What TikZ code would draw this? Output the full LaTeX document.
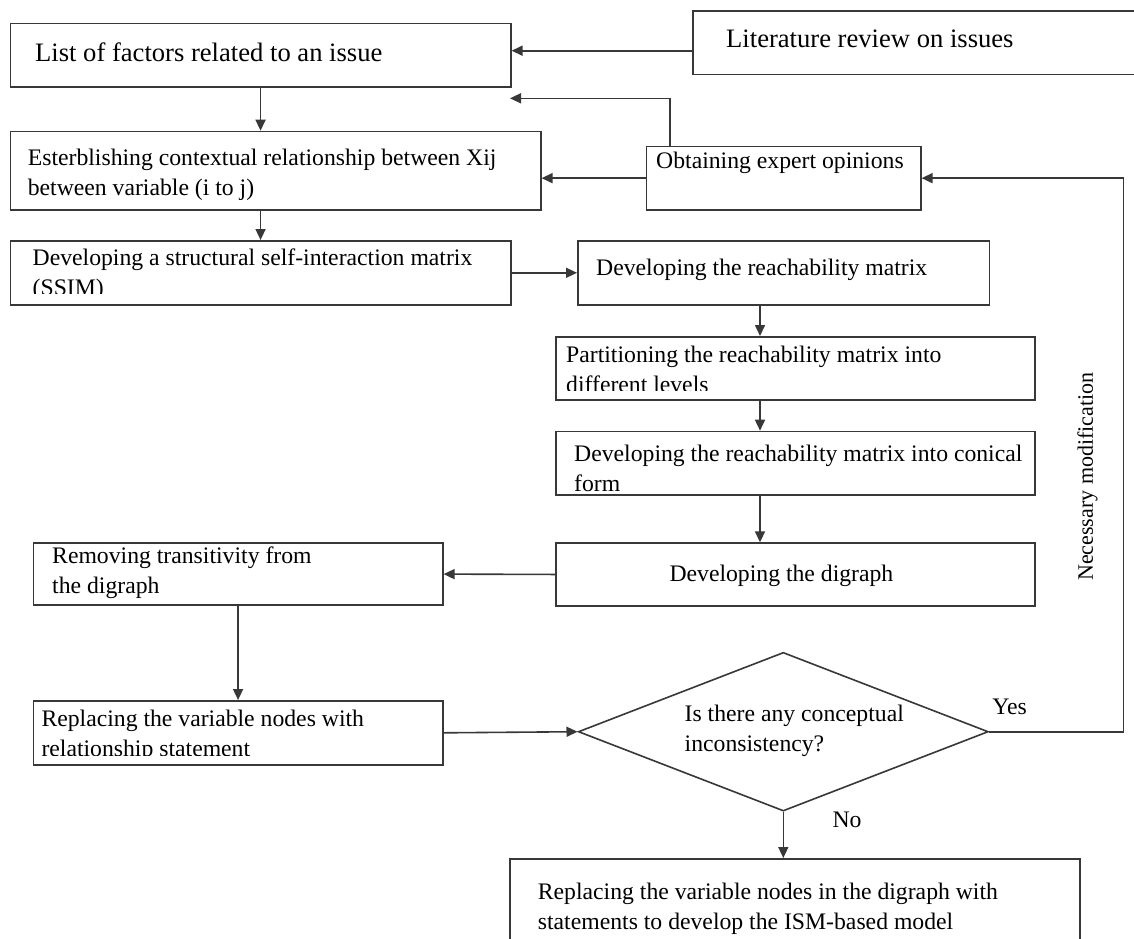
\documentclass[tikz,border=0pt]{standalone}
\usepackage{fontspec}
\setmainfont{Liberation Serif}
\usetikzlibrary{shapes.geometric,arrows.meta}
\newcommand\fbody{\fontsize{23.7}{30}\selectfont}
\newcommand\fbig{\fontsize{26.6}{30}\selectfont}
\newcommand\twol[2]{\begin{tabular}[t]{@{}l@{}}#1\\#2\end{tabular}}
\definecolor{lc}{gray}{0.22}
\begin{document}
\begin{tikzpicture}[x=1pt,y=-1pt,
  box/.style={draw=lc,line width=1.6pt,inner sep=0pt,anchor=north west},
  dia/.style={diamond,draw=lc,line width=1.6pt,inner sep=0pt},
  txt/.style={anchor=base west,inner sep=0pt,font=\fbody},
  lbl/.style={anchor=base,inner sep=0pt,font=\fbody},
  arr/.style={draw=lc,line width=1.6pt,-{Triangle[length=11pt,width=10pt]}}]
\clip (0,0) rectangle (1134,938);
\fill[white] (0,0) rectangle (1134,938);
% boxes
\node[box,minimum width=500.5pt,minimum height=63.3pt] (A) at (9.5,22.7) {};
\node[box,minimum width=470pt,minimum height=63.5pt] (Lit) at (692,10) {};
\node[box,minimum width=530.5pt,minimum height=78.6pt] (B) at (9.5,130.7) {};
\node[box,minimum width=274.3pt,minimum height=63.3pt] (Exp) at (645.7,145.7) {};
\node[box,minimum width=500.5pt,minimum height=64pt] (C) at (9.5,240) {};
\node[box,minimum width=411.7pt,minimum height=64pt] (D) at (577,240) {};
\node[box,minimum width=479pt,minimum height=63pt] (E) at (555,336) {};
\node[box,minimum width=479pt,minimum height=63.6pt] (F) at (555,430.7) {};
\node[box,minimum width=479pt,minimum height=62.7pt] (G) at (555,542.3) {};
\node[box,minimum width=409.5pt,minimum height=62pt] (H) at (32.5,542.3) {};
\node[box,minimum width=409.5pt,minimum height=64pt] (I) at (32.5,700) {};
\node[box,minimum width=570pt,minimum height=120pt] (Fin) at (509,858) {};
\node[dia,minimum width=410pt,minimum height=158.7pt] (Dia) at (783.3,731.7) {};
% texts
\node[txt,font=\fbig] (tA) at (35,61) {List of factors related to an issue};
\node[txt,font=\fbig] (tLit) at (726,47.3) {Literature review on issues};
\node[txt] (tB) at (27.6,165) {\twol{Esterblishing contextual relationship between Xij}{between variable (i to j)}};
\begin{scope}
\clip (9.5,240) rectangle (510,293.5);
\node[txt] (tC) at (32.5,265) {\twol{Developing a structural self-interaction matrix}{(SSIM)}};
\end{scope}
\node[txt] (tExp) at (656,168.3) {Obtaining expert opinions};
\node[txt] (tD) at (596,275) {Developing the reachability matrix};
\begin{scope}
\clip (555,336) rectangle (1034,390.5);
\node[txt] (tE) at (566,362.3) {\twol{Partitioning the reachability matrix into}{different levels}};
\end{scope}
\begin{scope}
\clip (555,430.7) rectangle (1034,494);
\node[txt] (tF) at (574,461.7) {\twol{Developing the reachability matrix into conical}{form}};
\end{scope}
\node[lbl] (tG) at (781.4,581.7) {Developing the digraph};
\node[txt] (tH) at (52,563.3) {\twol{Removing transitivity from}{the digraph}};
\begin{scope}
\clip (32.5,700) rectangle (442,755.5);
\node[txt] (tI) at (41.3,726) {\twol{Replacing the variable nodes with}{relationship statement}};
\end{scope}
\node[txt] (tDia) at (684.5,721.7) {\twol{Is there any conceptual}{inconsistency?}};
\node[txt] (tFin) at (537.7,899.3) {\twol{Replacing the variable nodes in the digraph with}{statements to develop the ISM-based model}};
\node[lbl] (yes) at (1009.6,714) {Yes};
\node[lbl] (no) at (847,827.3) {No};
\node[inner sep=0pt,font=\fontsize{22}{26}\selectfont,rotate=90] (nm) at (1087.5,476.7) {Necessary modification};
% connectors
\coordinate (yLit) at (0,50.7);
\coordinate (fb) at (670,98.3);
\coordinate (fe) at (510,98.3);
\coordinate (xR) at (1123.5,0);
\coordinate (xM) at (760,0);
\draw[arr] (Lit.west |- yLit) -- (A.east |- yLit);
\draw[arr] (Exp.north -| fb) -- (fb) -- (fe);
\draw[arr] (Exp.west) -- (B.east |- Exp.west);
\draw[arr] (Dia.east) -| (xR |- Exp.east) -- (Exp.east);
\draw[arr] (A.south) -- (A.south |- B.north);
\draw[arr] (C.north |- B.south) -- (C.north);
\draw[arr] (C.east) -- (D.west);
\draw[arr] (D.south -| xM) -- (E.north -| xM);
\draw[arr] (E.south -| xM) -- (F.north -| xM);
\draw[arr] (F.south -| xM) -- (G.north -| xM);
\draw[arr] (G.west) -- (H.east);
\draw[arr] (H.south) -- (I.north);
\draw[arr] (I.east) -- (Dia.west);
\draw[arr] (Dia.south) -- (Dia.south |- Fin.north);
\end{tikzpicture}
\end{document}
